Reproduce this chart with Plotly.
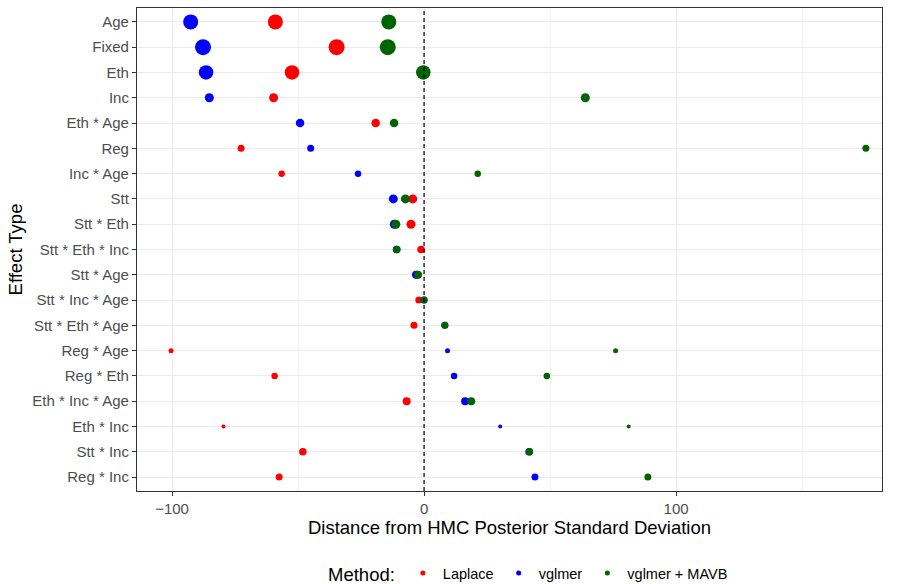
import plotly.graph_objects as go

# Effect types, listed top to bottom
effects = ["Age", "Fixed", "Eth", "Inc", "Eth * Age", "Reg", "Inc * Age", "Stt",
           "Stt * Eth", "Stt * Eth * Inc", "Stt * Age", "Stt * Inc * Age",
           "Stt * Eth * Age", "Reg * Age", "Reg * Eth", "Eth * Inc * Age",
           "Eth * Inc", "Stt * Inc", "Reg * Inc"]

# Distance from HMC posterior standard deviation, per method
laplace = [-59.0, -34.7, -52.4, -59.7, -19.2, -72.6, -56.5, -4.5,
           -5.2, -1.2, -2.8, -2.1, -4.0, -100.4, -59.3, -6.9,
           -79.6, -48.1, -57.5]
vglmer = [-92.6, -87.7, -86.5, -85.2, -49.2, -45.0, -26.2, -12.2,
          -11.8, -10.9, -3.2, 0.0, 8.2, 9.3, 11.9, 16.3,
          30.2, 41.7, 44.0]
vglmer_mavb = [-14.0, -14.4, -0.3, 64.0, -11.9, 175.3, 21.3, -7.4,
               -11.2, -10.8, -2.4, 0.0, 8.3, 76.0, 48.7, 18.7,
               81.2, 41.8, 88.8]

# Point size per effect type
point_size = [15, 16, 14.5, 9, 8.5, 7, 6.5, 9,
              9, 7.5, 8, 7, 7, 5, 6.5, 8,
              4, 7.5, 7]

methods = [("Laplace", laplace, "#FF0000"),
           ("vglmer", vglmer, "#0000FF"),
           ("vglmer + MAVB", vglmer_mavb, "#006400")]

fig = go.Figure()
for name, vals, col in methods:
    fig.add_trace(go.Scatter(
        x=vals, y=effects, mode="markers", name=name, showlegend=False,
        marker=dict(color=col, size=point_size, opacity=1, line=dict(width=0)),
    ))
# Legend keys
for name, vals, col in methods:
    fig.add_trace(go.Scatter(
        x=[None], y=[None], mode="markers", name=name,
        marker=dict(color=col, size=5, opacity=1, line=dict(width=0)),
    ))

fig.add_vline(x=0, line=dict(color="black", width=1.2, dash="4px,3px"))

grid_major = "#EBEBEB"
fig.update_layout(
    width=899, height=584,
    margin=dict(l=137, r=17, t=8, b=93, autoexpand=False),
    paper_bgcolor="white", plot_bgcolor="white",
    font=dict(family="Liberation Sans, Arial, sans-serif", color="black"),
    xaxis=dict(
        range=[-113.9, 181.7], tickvals=[-100, 0, 100],
        showgrid=True, gridcolor=grid_major, gridwidth=1.4,
        minor=dict(tickvals=[-50, 50, 150], showgrid=True,
                   gridcolor="#F2F2F2", gridwidth=0.8, ticks=""),
        zeroline=False, showline=True, mirror=True, linecolor="#333333",
        linewidth=1.1, ticks="outside", ticklen=4, tickcolor="#333333",
        tickfont=dict(size=15, color="#4D4D4D"),
        title=dict(text="Distance from HMC Posterior Standard Deviation",
                   font=dict(size=18.5, color="black"), standoff=2),
    ),
    yaxis=dict(
        categoryorder="array", categoryarray=effects,
        range=[len(effects) - 0.45, -0.55],
        showgrid=True, gridcolor=grid_major, gridwidth=1.4,
        zeroline=False, showline=True, mirror=True, linecolor="#333333",
        linewidth=1.1, ticks="outside", ticklen=4, tickcolor="#333333",
        tickfont=dict(size=15, color="#4D4D4D"),
        title=dict(text="Effect Type", font=dict(size=18.5, color="black"),
                   standoff=4),
    ),
    legend=dict(
        orientation="h", x=326 / 899, xref="container", xanchor="left",
        y=0.016, yref="container", yanchor="middle",
        title=dict(text="Method:", font=dict(size=18.5)),
        font=dict(size=14.5), itemwidth=30, tracegroupgap=0,
    ),
)

fig.write_html("out.html")
